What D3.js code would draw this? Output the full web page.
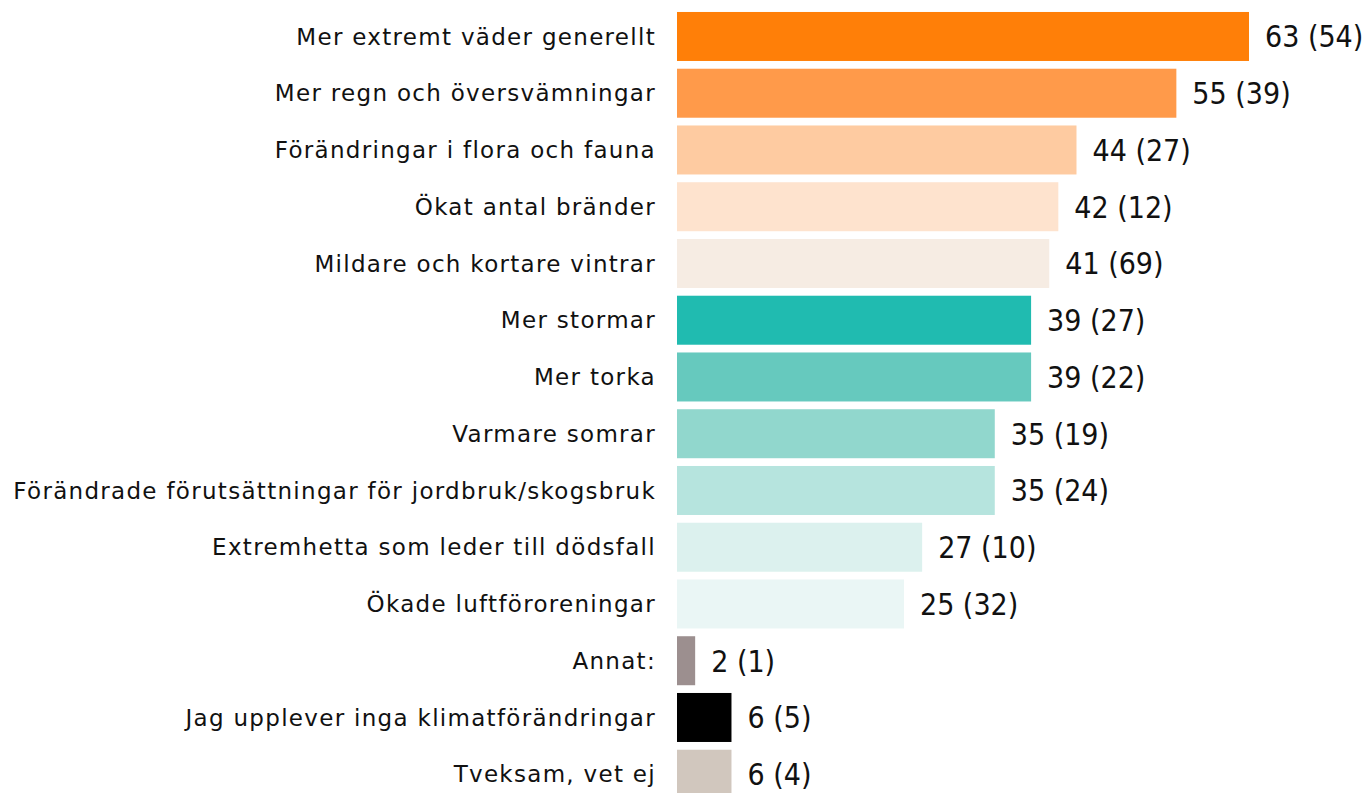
<!DOCTYPE html>
<html>
<head>
<meta charset="utf-8">
<script src="https://cdn.jsdelivr.net/npm/d3@7"></script>
<style>
  body { margin: 0; background: #fff; }
  text { font-family: "Century Gothic", "DejaVu Sans", sans-serif; fill: #111; }
  .value { font-family: "DejaVu Sans Condensed", "DejaVu Sans", sans-serif; font-stretch: condensed; }
</style>
</head>
<body>
<svg id="chart" width="1370" height="793"></svg>
<script>
const categories = [
    "Mer extremt väder generellt",
    "Mer regn och översvämningar",
    "Förändringar i flora och fauna",
    "Ökat antal bränder",
    "Mildare och kortare vintrar",
    "Mer stormar",
    "Mer torka",
    "Varmare somrar",
    "Förändrade förutsättningar för jordbruk/skogsbruk",
    "Extremhetta som leder till dödsfall",
    "Ökade luftföroreningar",
    "Annat:",
    "Jag upplever inga klimatförändringar",
    "Tveksam, vet ej"
];
const values = [63, 55, 44, 42, 41, 39, 39, 35, 35, 27, 25, 2, 6, 6];
const previous = [54, 39, 27, 12, 69, 27, 22, 19, 24, 10, 32, 1, 5, 4];
const colors = ["#ff7f08", "#ff9a4a", "#fecba1", "#fee3ce", "#f6ece3",
    "#20bbb0", "#66c9be", "#91d7cd", "#b6e4de", "#dcf1ee", "#eaf6f5",
    "#9c8f8f", "#000000", "#d1c7be"];

const svg = d3.select("#chart");

const x = d3.scaleLinear().domain([0, 63]).range([677, 1249]);
const y = d3.scaleBand()
    .domain(categories)
    .range([8.1, 8.1 + 14 * 56.75])
    .paddingInner(0.1366)
    .paddingOuter(0.0683);

const rows = svg.selectAll("g.row")
    .data(categories)
    .enter()
    .append("g")
    .attr("class", "row");

rows.append("rect")
    .attr("x", x(0))
    .attr("y", d => y(d))
    .attr("width", (d, i) => x(values[i]) - x(0))
    .attr("height", y.bandwidth())
    .attr("fill", (d, i) => colors[i]);

// category labels
rows.append("text")
    .attr("x", 656)
    .attr("y", d => y(d) + y.bandwidth() / 2)
    .attr("dy", "0.35em")
    .attr("text-anchor", "end")
    .style("font-size", "23px")
    .style("letter-spacing", "1.3px")
    .text(d => d);

// value labels
rows.append("text")
    .attr("class", "value")
    .attr("x", (d, i) => x(values[i]) + 16)
    .attr("y", d => y(d) + y.bandwidth() / 2)
    .attr("dy", "0.36em")
    .style("font-size", "30px")
    .text((d, i) => values[i] + " (" + previous[i] + ")");
</script>
</body>
</html>
